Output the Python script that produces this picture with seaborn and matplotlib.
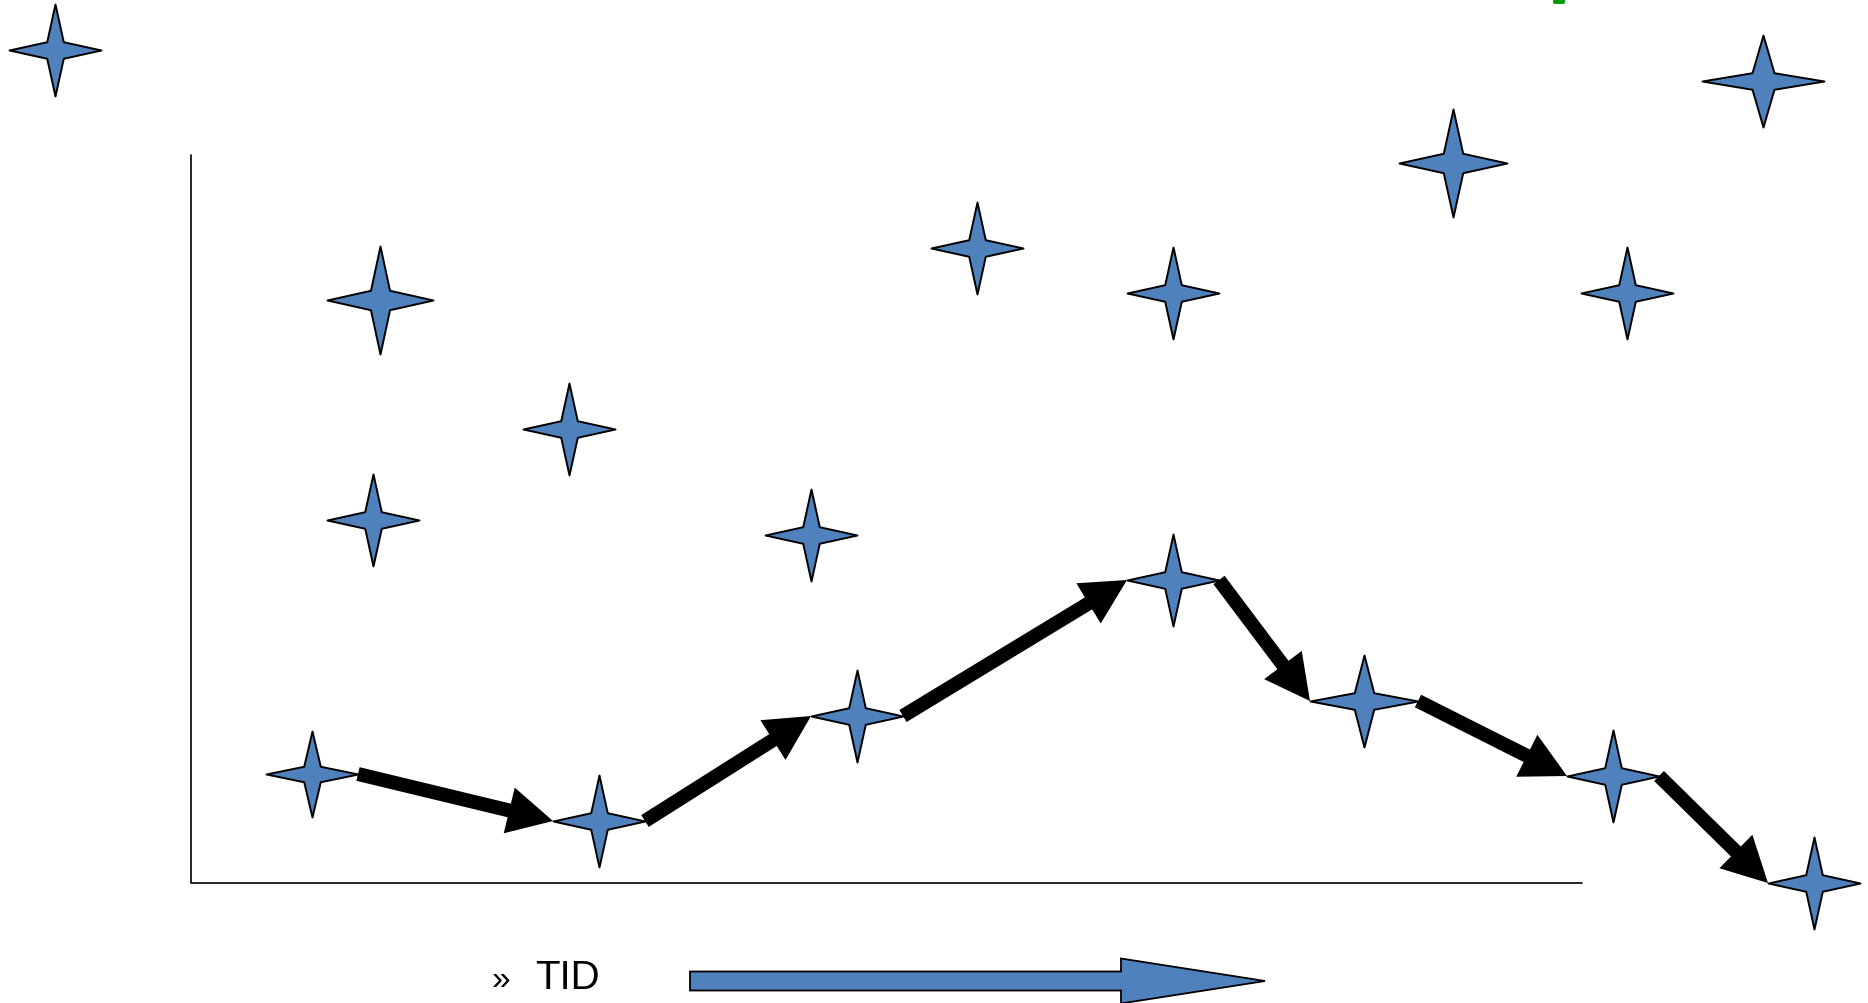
import matplotlib.pyplot as plt
import seaborn as sns
from matplotlib.path import Path
from matplotlib.markers import MarkerStyle
from matplotlib.patches import FancyBboxPatch

# ===========================
# Slide data (pixel space, y grows downward)
# ===========================
# loose stars scattered over the slide
cloud_x = [55, 380, 373, 569, 811, 977, 1173, 1453, 1627, 1763]
cloud_y = [51, 301, 521, 430, 536, 249, 294, 164, 294, 82]
cloud_w = [46, 53, 46, 46, 46, 46, 46, 54, 46, 61]
cloud_h = [46, 54, 46, 46, 46, 46, 46, 54, 46, 46]

# stars linked by the black arrows
trend_x = [312, 599, 857, 1173, 1364, 1613, 1814]
trend_y = [775, 822, 717, 581, 702, 777, 884]
trend_w = [46, 46, 46, 46, 54, 46, 46]
trend_h = [43, 46, 46, 46, 46, 46, 46]

axis_corner = (191, 884)
axis_top = 156
axis_right = 1582

bullet = "»"
time_label = "TID"
time_arrow = (690, 1265, 982)   # start x, tip x, y

STAR_BLUE = "#4F81BD"

sns.set_style("white")
fig = plt.figure(figsize=(18.68, 10.04), dpi=100)
ax = fig.add_axes([0, 0, 1, 1])
ax.set_xlim(0, 1868)
ax.set_ylim(1004, 0)
ax.axis("off")


def star_marker(w, h, r=0.18):
    m = max(w, h)
    a, b = w / m, h / m
    verts = [(a, 0), (r * a, r * b), (0, b), (-r * a, r * b),
             (-a, 0), (-r * a, -r * b), (0, -b), (r * a, -r * b), (a, 0)]
    return MarkerStyle(Path(verts, closed=True)), (2 * m * 0.72) ** 2


def draw_stars(xs, ys, ws, hs):
    for x, y, w, h in zip(xs, ys, ws, hs):
        marker, size = star_marker(w, h)
        sns.scatterplot(x=[x], y=[y], marker=marker, s=size, color=STAR_BLUE,
                        edgecolor="black", linewidth=1.4, ax=ax, zorder=2,
                        clip_on=False, legend=False)


# axis lines
ax.plot([axis_corner[0], axis_corner[0], axis_right],
        [axis_top, axis_corner[1], axis_corner[1]], color="black", lw=1.2, zorder=1)

draw_stars(cloud_x, cloud_y, cloud_w, cloud_h)
draw_stars(trend_x, trend_y, trend_w, trend_h)

# black arrows: right tip of one star to left tip of the next
for i in range(len(trend_x) - 1):
    x0, y0 = trend_x[i] + trend_w[i], trend_y[i]
    x1, y1 = trend_x[i + 1] - trend_w[i + 1], trend_y[i + 1]
    ax.arrow(x0, y0, x1 - x0, y1 - y0, width=14, head_width=47, head_length=45,
             length_includes_head=True, fc="black", ec="black", lw=0, zorder=3)

# time arrow + label
ax.arrow(time_arrow[0], time_arrow[2], time_arrow[1] - time_arrow[0], 0,
         width=19, head_width=45, head_length=144, length_includes_head=True,
         fc=STAR_BLUE, ec="black", lw=1.3, zorder=2, clip_on=False)
ax.text(492, 989, bullet, fontsize=24, family="Liberation Sans", color="black",
        va="baseline", ha="left")
ax.text(535, 989, time_label, fontsize=29, family="Liberation Sans", color="black",
        va="baseline", ha="left")

# small green shape cut off at the top edge
ax.add_patch(FancyBboxPatch((1555, -6), 8, 9, boxstyle="round,pad=2",
                            fc="#0A9D0A", ec="none"))

fig.savefig("out.png", dpi=100)
